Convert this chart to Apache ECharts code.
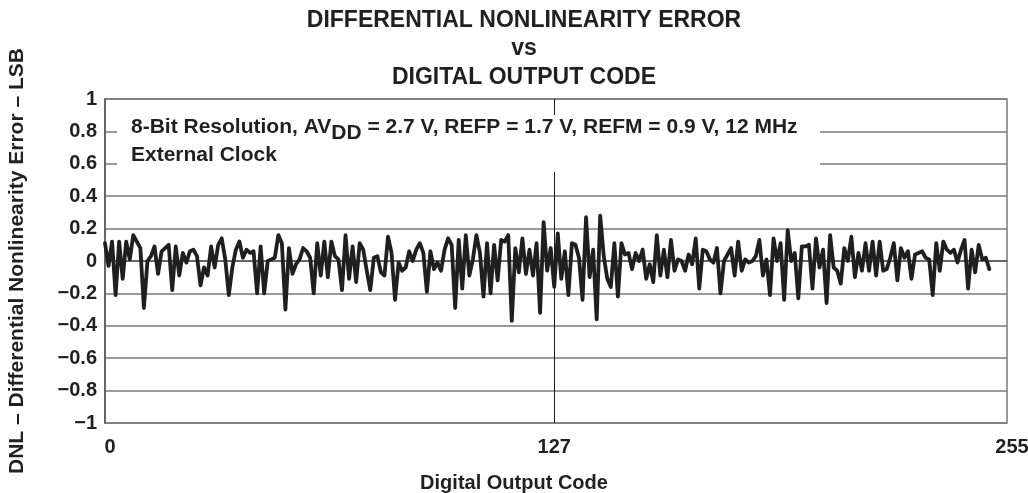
<!DOCTYPE html>
<html>
<head>
<meta charset="utf-8">
<script src="https://cdn.jsdelivr.net/npm/echarts@6/dist/echarts.min.js"></script>
<style>
html,body{margin:0;padding:0;background:#fff;}
#c{width:1028px;height:493px;}
</style>
</head>
<body>
<div id="c"></div>
<script>
// ---- data ----
const titleLines = ['DIFFERENTIAL NONLINEARITY ERROR', 'vs', 'DIGITAL OUTPUT CODE'];
const xAxisName = 'Digital Output Code';
const yAxisName = 'DNL \u2013 Differential Nonlinearity Error \u2013 LSB';
const xTickValues = [0, 127, 255];
const yMin = -1, yMax = 1, yStep = 0.2;
const noteLine1 = ['8-Bit Resolution, AV', 'DD', ' = 2.7 V, REFP = 1.7 V, REFM = 0.9 V, 12 MHz'];
const noteLine2 = 'External Clock';

// DNL (LSB) for digital output codes 0..250
const dnlCodes0to39 = [0.11, -0.03, 0.12, -0.21, 0.12, -0.11, 0.12, 0.01, 0.16, 0.12, 0.08, -0.29, 0.0, 0.03, 0.09, -0.08, 0.06, 0.08, 0.10, -0.18, 0.09, -0.09, 0.05, -0.01, 0.06, 0.07, 0.03, -0.15, -0.04, -0.09, 0.09, -0.04, 0.10, 0.14, 0.01, -0.21, -0.04, 0.07, 0.12, 0.02];
const dnlCodes40to80 = [0.07, 0.05, 0.06, -0.20, 0.09, -0.20, 0.0, 0.01, 0.02, 0.16, 0.11, -0.30, 0.08, -0.08, -0.02, 0.01, 0.08, 0.06, 0.02, -0.20, 0.11, -0.09, 0.12, -0.10, 0.12, 0.03, 0.01, -0.18, 0.16, -0.11, 0.09, -0.13, 0.11, 0.07, -0.06, -0.18, 0.02, 0.03, -0.07, -0.09, 0.15];
const dnlCodes81to121 = [0.05, -0.24, -0.01, -0.06, -0.04, 0.06, 0.0, 0.07, 0.11, 0.05, -0.19, 0.06, -0.05, -0.01, -0.06, 0.07, 0.14, 0.10, -0.29, 0.13, -0.17, 0.16, -0.09, 0.01, 0.16, 0.05, -0.22, 0.11, -0.20, 0.10, -0.12, 0.13, 0.12, 0.16, -0.37, 0.08, -0.07, 0.14, -0.08, 0.07, -0.09];
const dnlCodes122to163 = [0.11, -0.32, 0.24, -0.06, 0.08, -0.16, 0.17, -0.11, 0.06, -0.21, 0.11, 0.10, 0.02, -0.24, 0.27, -0.10, 0.07, -0.36, 0.28, 0.03, -0.11, -0.16, 0.11, -0.22, 0.11, 0.04, 0.05, -0.05, 0.05, 0.0, 0.07, -0.11, -0.02, -0.13, 0.16, -0.09, 0.07, -0.10, 0.13, -0.06, 0.01, 0.0];
const dnlCodes164to205 = [-0.06, 0.04, -0.02, 0.14, -0.17, 0.07, 0.06, 0.01, -0.01, 0.08, -0.20, 0.0, 0.04, 0.08, -0.09, 0.12, -0.06, 0.01, -0.01, 0.0, 0.03, 0.13, -0.09, 0.01, -0.21, 0.14, 0.0, 0.11, -0.24, 0.19, 0.0, 0.05, -0.23, 0.09, 0.09, 0.10, -0.17, 0.14, -0.04, 0.07, -0.26, 0.16];
const dnlCodes206to250 = [-0.04, -0.06, -0.14, 0.08, 0.0, 0.15, -0.10, 0.05, -0.06, 0.11, -0.06, 0.12, -0.09, 0.12, -0.06, -0.05, 0.02, 0.11, -0.12, 0.08, 0.02, 0.06, -0.11, 0.04, 0.05, 0.06, 0.02, 0.01, -0.21, 0.11, -0.06, 0.12, 0.07, 0.05, 0.07, -0.01, 0.07, 0.13, -0.17, 0.07, -0.07, 0.10, 0.01, 0.02, -0.05];

const dnl = [].concat(dnlCodes0to39, dnlCodes40to80, dnlCodes81to121, dnlCodes122to163, dnlCodes164to205, dnlCodes206to250);
const seriesData = dnl.map((v, i) => [i, v]);

// ---- chart ----
const FONT = '"Liberation Sans", Arial, Helvetica, sans-serif';
const INK = '#231f20';
const chart = echarts.init(document.getElementById('c'), null, {renderer: 'canvas'});

chart.setOption({
  backgroundColor: '#ffffff',
  animation: false,
  title: {
    text: titleLines.join('\n'),
    left: 524,
    top: 6,
    padding: 0,
    textAlign: 'center',
    textStyle: {fontFamily: FONT, fontSize: 23, fontWeight: 'bold', color: INK, lineHeight: 28.5}
  },
  grid: {left: 105, right: 21, top: 99, bottom: 70, show: true, borderColor: '#7a7a7a', borderWidth: 1.5,
         backgroundColor: 'transparent', outerBoundsMode: 'none', containLabel: false},
  xAxis: {
    type: 'value', min: 0, max: 255,
    name: xAxisName, nameLocation: 'middle', nameGap: 50,
    nameTextStyle: {fontFamily: FONT, fontSize: 20, fontWeight: 'bold', color: INK, padding: [0, 84, 0, 0]},
    axisLine: {show: true, lineStyle: {color: '#555', width: 1.5}},
    axisTick: {show: false},
    splitLine: {show: false},
    axisLabel: {
      customValues: xTickValues,
      margin: 14,
      fontFamily: FONT, fontSize: 20, fontWeight: 'bold', color: INK,
      formatter: function (v) {
        if (v === 0) return '{l|' + v + '}';
        if (v === 255) return '{r|' + v + '}';
        return '{m|' + v + '}';
      },
      rich: {
        l: {fontFamily: FONT, fontSize: 20, fontWeight: 'bold', color: INK, padding: [0, 0, 0, 10]},
        m: {fontFamily: FONT, fontSize: 20, fontWeight: 'bold', color: INK},
        r: {fontFamily: FONT, fontSize: 20, fontWeight: 'bold', color: INK, padding: [0, 0, 0, 10]}
      }
    }
  },
  yAxis: {
    type: 'value', min: yMin, max: yMax, interval: yStep,
    name: yAxisName, nameLocation: 'middle', nameGap: 77, nameRotate: 90,
    nameTextStyle: {fontFamily: FONT, fontSize: 21, fontWeight: 'bold', color: INK},
    axisLine: {show: true, lineStyle: {color: '#555', width: 1.5}},
    axisTick: {show: false},
    splitLine: {show: true, lineStyle: {color: '#7a7a7a', width: 1.5}},
    axisLabel: {
      margin: 8,
      fontFamily: FONT, fontSize: 20, fontWeight: 'bold', color: INK,
      formatter: function (v) {
        const r = Math.round(v * 10) / 10;
        if (r === 0) return '0';
        return (r < 0 ? '\u2212' : '') + String(Math.abs(r));
      }
    }
  },
  series: [{
    type: 'line',
    data: seriesData,
    showSymbol: false,
    symbol: 'none',
    lineStyle: {color: '#1f1f1f', width: 3.8, join: 'round', cap: 'round'},
    markLine: {
      silent: true,
      symbol: ['none', 'none'],
      label: {show: false},
      lineStyle: {color: '#1a1a1a', width: 1, type: 'solid'},
      data: [{xAxis: xTickValues[1]}]
    },
    z: 3
  }],
  graphic: [
    {type: 'rect', shape: {x: 117, y: 115, width: 703, height: 57}, style: {fill: '#ffffff'}, z: 100, silent: true},
    {
      type: 'text', x: 131, y: 117, z: 101, silent: true,
      style: {
        text: '{n|' + noteLine1[0] + '}{s|' + noteLine1[1] + '}{n|' + noteLine1[2] + '}',
        rich: {
          n: {fontFamily: FONT, fontSize: 21, fontWeight: 'bold', fill: INK, lineHeight: 24, verticalAlign: 'top'},
          s: {fontFamily: FONT, fontSize: 21, fontWeight: 'bold', fill: INK, lineHeight: 24, verticalAlign: 'top', padding: [6, 0, 0, 0]}
        }
      }
    },
    {
      type: 'text', x: 131, y: 145, z: 101, silent: true,
      style: {text: noteLine2, fontFamily: FONT, fontSize: 21, fontWeight: 'bold', fill: INK}
    }
  ]
});
</script>
</body>
</html>
